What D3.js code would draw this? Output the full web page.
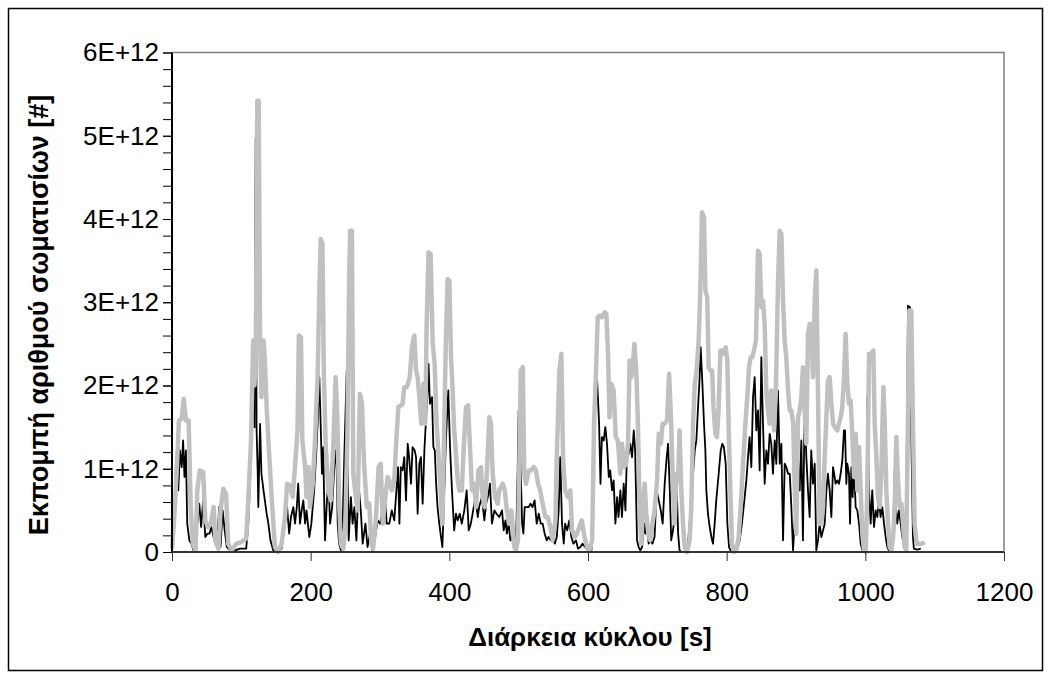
<!DOCTYPE html>
<html>
<head>
<meta charset="utf-8">
<script src="https://cdn.jsdelivr.net/npm/d3@7"></script>
<style>
  html, body { margin: 0; padding: 0; background: #ffffff; }
  svg { display: block; }
  text { font-family: "Liberation Sans", Arial, sans-serif; }
</style>
</head>
<body>
<svg id="chart" width="1051" height="679"></svg>
<script>
// ---- Data (values in units of 1E+12 particles) ----
const blackTime = [0,3,6,9,11.5,14,16,18,20,22,25,28,31,34,36.5,39.4,42,45,48,51,54,56.7,60,62.5,65,68,70,73,76,79,84,91,98,107,110,112.5,115,117,119,120.7,122,123.5,124.5,127,129,132,136.5,139,142,146,153,158,163,166,169,171.6,175,177.4,180,182,184.6,187,189.4,192,194,198,201,205,207.7,210,212.5,214.4,216.3,218,220.7,223,225.5,228,231,233.6,236,237.5,239,241,243.7,246,248.5,252,254.8,258,260.5,263,266,269,272.6,275,279,282,285.5,289,293,296.6,300,304,307,309.6,313.4,317,320.6,323,326,328,330,332.6,335,337.5,340,342,344.7,347,350,352,354.3,356.7,359,361.5,364,366,368.7,370,372,375,377,379,381,383,385.5,388,390,392.7,395,398.5,401,403.8,407,409.6,412,415,418,421.6,425,428,431,433.6,437.5,441,443,447,450.5,453,456.7,458.6,461.5,465,468,472,476,478.4,481,483,485.6,488,490.4,493.3,496,498.6,500,502.4,505,506.8,508.7,511.6,514.5,517,520,523,526,529,531.8,534.6,537.5,540.4,543,546,549,552,555,557.7,560,562.5,565,567,570,573,576,579,582.7,585.6,589,592,596,600,605,608,609.7,613,616,618,620,622.6,625,627.4,630,632,634.7,637,639.5,642,644,646.7,649,651.5,654,656,658.7,661,663.5,666,668,670.7,673,675.5,678,681,682.7,685,687.5,690,693,696,699,702,705,707.7,710.6,713.5,715.5,718,720,722.6,725,727.4,730,732,734.6,739.4,744.2,746.6,749,751.5,754,756.3,758.7,761,762.5,765,767.3,769.3,770.7,773,775.5,778,780.3,782.7,785,788.5,791.4,793.8,796,798.6,801,803.4,806.7,814,818.8,822,825,828.4,830.8,833,835.6,838,840.4,842.8,845.2,847.6,850,852.4,854.8,857.2,859.6,862,864.4,866.8,869.3,871.6,874,876.5,878.9,881.3,883.7,886,888.5,891,893.3,895.7,898,900.5,902.9,905.3,907.7,910,912.5,914.9,917.3,919.7,922,924.5,927,929.3,931.7,934,936.6,939,941.4,943.8,946,948.6,951,953.4,955.8,957,959.6,962,964.4,966.8,969.2,970.7,972.6,974,976.4,977.9,979.8,981.7,983.7,986,988.5,990.9,993.3,995.7,999,1001.4,1002.9,1005.3,1007.7,1010,1012.5,1014.9,1017.3,1019.7,1022,1024.5,1027,1029.3,1031.7,1034,1037.5,1040.4,1042.3,1044.2,1046,1048.5,1051,1053.4,1055.8,1058.6,1060.6,1061.5,1064.4,1066.8,1068.7,1070,1075,1080];
const blackValues = [0.06,0.34,1.14,0.74,1.22,1.02,1.34,0.9,1.22,0.34,0.14,0.1,0.02,0.18,0.34,0.58,0.3,0.62,0.18,0.22,0.22,0.3,0.18,0.1,0.06,0.54,0.06,0.5,0.26,0.06,0.02,0.02,0.04,0.04,0.34,0.82,1.54,2.0,1.5,4.98,1.46,1.0,0.54,1.54,0.94,0.74,0.46,0.34,0.14,0.02,0.0,0.04,0.34,0.54,0.22,0.42,0.54,0.34,0.54,0.82,0.34,0.5,0.62,0.34,0.5,0.18,0.34,0.74,1.14,1.54,2.1,1.54,0.94,1.26,0.14,0.54,0.9,0.34,0.54,0.94,1.22,1.06,0.34,0.1,0.02,0.3,1.14,2.18,0.14,0.66,0.34,0.54,0.14,0.82,0.46,0.1,0.34,0.06,0.22,0.02,0.18,0.38,0.34,0.5,0.7,0.34,0.34,0.5,0.38,0.66,1.02,0.34,1.02,0.98,1.14,0.62,1.3,1.14,0.82,1.26,1.22,1.14,0.46,1.06,1.14,0.58,1.22,1.54,1.94,2.26,1.78,1.86,1.26,1.22,0.82,0.54,0.34,0.18,0.06,0.74,1.34,1.94,1.26,0.74,0.26,0.46,0.38,0.46,0.34,0.5,0.74,0.26,0.34,0.46,0.66,0.42,0.54,0.66,0.38,0.58,0.7,0.82,0.34,0.5,0.46,0.42,0.5,0.26,0.38,0.22,0.34,0.14,0.18,0.04,0.04,0.98,1.7,1.14,0.34,0.22,0.54,0.54,0.54,0.58,0.54,0.62,0.34,0.46,0.34,0.34,0.22,0.14,0.18,0.14,0.22,0.1,0.18,0.5,1.14,0.34,0.1,0.34,0.26,0.38,0.18,0.1,0.14,0.04,0.06,0.1,0.06,0.02,0.02,1.14,1.98,2.1,1.54,0.82,1.38,1.34,1.5,1.3,0.9,0.98,0.74,0.86,0.34,0.66,0.42,0.74,0.42,0.82,0.5,1.14,1.18,1.3,1.14,1.46,1.22,0.14,0.06,0.02,0.06,0.34,0.22,0.34,0.1,0.14,0.1,0.18,0.74,0.62,0.5,0.34,0.82,1.14,1.3,0.74,0.14,0.26,0.42,0.94,0.22,0.02,0.0,0.0,0.1,0.34,0.74,0.94,1.22,1.34,1.74,2.1,2.46,2.02,1.54,1.22,0.74,0.46,0.3,0.18,0.1,0.34,0.62,0.94,1.22,1.3,1.26,1.06,0.34,0.06,0.0,0.0,0.14,0.34,0.58,0.86,1.14,1.38,1.02,1.86,2.1,1.46,1.7,0.98,2.34,1.54,0.82,1.22,1.06,1.42,1.3,0.94,1.34,1.06,1.94,1.06,1.3,0.14,1.06,1.02,0.94,0.94,0.54,0.02,0.34,0.86,1.14,0.74,1.34,0.14,1.78,1.14,0.74,0.42,1.22,0.82,1.06,0.02,0.14,0.34,0.18,0.26,0.34,0.74,0.94,0.74,0.42,1.02,0.9,0.82,0.86,0.82,0.94,1.1,1.46,1.46,0.82,1.06,0.94,0.34,1.02,0.66,1.06,0.54,0.5,0.34,0.1,0.02,0.0,0.14,1.86,0.74,0.34,0.74,0.3,0.5,0.42,0.62,0.42,0.54,0.34,0.18,0.06,0.02,0.02,0.34,0.98,0.54,0.34,0.5,0.34,0.18,0.06,0.02,1.94,2.96,2.94,1.14,0.18,0.04,0.03,0.04];

const grayTime = [0,3,7,10,14,17,20,24,27,30,34,36.5,40,45,48,52,56,60,62.5,67,70,74,78,81,86,93,100,107,110,114,117,119,121,123,125,127,129,132,134,136.5,139,144,148.5,153,158,163,166,170,174,177,181,183,186,188,192,194,197,199,203,206,210,212.5,214.5,217,219,221.6,225.5,229,232.7,236,238.5,241,243.5,247,250,253,255.5,257,259.5,261.5,264,267.7,271,274,277,281,284.6,287.5,290,294,298,301,304,307.7,311,313.4,317,320.6,323,326.4,330,332.6,335,338.4,341,343,346,349.5,352,354.3,356.7,359.6,362.5,365.3,367.3,370,373,376,378.8,381.7,384.6,387,390,392.7,395,397.6,400,402.4,404.8,407,409.6,412,414.4,418,420.6,424,427,429.8,432.7,436,438.4,442,445.6,448,451,453.8,457.7,460,462.5,466,469.7,472,477,480,483,486.6,489.5,493,496,499,501,503,506,508,510.6,514.5,518,521.7,525,528,531,534.6,538.5,542,545.7,549,553,555,558.7,561.6,564,567,571,574.5,577,581,584,587.5,591,595,598.6,602,606,608.7,611.6,614,617,620,624,626.5,629,631,633.7,637,640,643,646.7,649,652,655,657.7,660,662.5,665,667,670,672,674.6,677,679,681.8,684,687.5,690,693,696,699.6,702,705,707.7,710.6,714,717,720,722.6,725,727.4,730,732,734.6,737,739.4,742.8,746.6,749,751.5,754,756.3,759.6,762,764.4,767.3,769.3,772,774,776.5,779,781,783.7,786,788.5,791,793.3,796,798.6,801,803,805.3,807.7,810.6,814,817.3,820.2,823.6,827,830,832.2,834.6,837,839.4,842.3,845.2,847.6,850,852.4,854.8,857.2,859.6,862,864.4,868.3,871,874,876.5,878.9,881.3,883.7,886,888.5,891,893.3,896,898,900.5,902.9,905.3,907.7,910,912.5,914.9,917.3,919.7,922,924.5,927,929.3,931.7,934,936.6,939,941.4,943.8,946,948.6,951,953.4,956,959.6,962,964.4,966.8,969.2,971.6,974,976.4,978.8,981.2,983.7,986,988.5,990.9,993.3,995.7,998,1000.5,1002.9,1005.3,1008.6,1011.5,1013.5,1015.9,1018.3,1020.7,1023,1026,1028,1030.3,1032.7,1035,1037.5,1040,1042.3,1044.7,1047,1049.5,1052,1054.3,1056.7,1059,1061.5,1063.5,1066.3,1068.7,1071,1074,1077.4,1082,1085.6];
const grayValues = [0.04,0.38,1.0,1.58,1.6,1.84,1.58,1.58,0.54,0.1,0.02,0.74,0.98,0.96,0.38,0.3,0.34,0.54,0.14,0.04,0.5,0.76,0.7,0.1,0.02,0.1,0.12,0.16,0.62,1.34,2.54,2.0,2.56,5.42,5.42,2.58,1.86,2.54,2.3,1.74,1.34,0.62,0.06,0.0,0.1,0.42,0.82,0.8,0.66,0.98,1.46,2.6,2.58,1.34,1.02,0.66,1.02,0.54,0.82,1.3,2.1,3.14,3.76,3.7,2.14,1.3,0.74,0.62,1.3,2.1,1.6,0.6,0.1,0.04,0.3,1.4,3.3,3.86,3.86,0.94,0.74,0.5,1.9,1.78,1.06,0.54,0.58,0.1,0.04,0.38,1.02,1.06,0.34,0.66,0.9,0.86,0.74,0.86,1.26,1.74,1.76,1.78,1.98,1.98,2.04,2.1,2.46,2.6,2.18,2.1,1.86,1.54,2.02,1.54,2.74,3.6,3.58,2.5,2.26,1.54,1.14,0.82,0.34,1.54,2.54,3.28,3.26,2.34,1.94,1.46,1.18,0.86,0.74,0.74,1.22,1.74,1.76,1.26,0.74,0.82,0.54,0.98,1.02,0.66,0.54,0.9,1.62,1.54,0.94,0.66,0.58,0.74,0.82,0.74,0.5,0.34,0.5,0.1,0.02,0.14,1.06,2.18,2.22,0.94,0.82,0.98,0.98,1.02,0.98,0.82,0.74,0.58,0.42,0.42,0.3,0.14,0.38,1.14,2.18,2.38,1.14,0.74,0.66,0.74,0.26,0.18,0.22,0.3,0.38,0.18,0.06,0.02,0.14,1.54,2.18,2.82,2.84,2.82,2.88,2.86,2.34,1.62,2.02,1.94,1.38,1.34,0.94,1.3,1.02,1.06,1.3,2.3,2.1,2.3,2.5,2.1,1.54,0.5,0.1,0.54,0.82,0.46,0.18,0.14,0.34,0.5,0.86,1.42,1.3,1.54,1.54,1.58,2.14,1.54,0.74,0.34,0.94,0.86,1.46,0.74,0.34,0.06,0.0,0.14,0.54,1.54,2.02,2.14,2.54,3.14,4.08,4.02,3.14,3.06,2.22,2.18,2.18,1.74,1.42,1.38,1.74,2.42,2.42,2.38,2.46,2.3,1.46,0.74,0.1,0.0,0.02,0.18,0.54,1.06,1.54,1.9,2.22,2.34,2.34,2.42,2.54,3.62,3.58,2.94,3.02,2.74,1.94,1.7,1.54,1.94,1.46,1.94,3.22,3.86,3.82,3.02,2.54,2.34,1.94,1.7,1.7,1.54,0.82,0.22,1.62,1.7,1.86,2.22,1.7,1.3,2.62,2.74,2.74,2.1,3.02,3.38,1.94,0.34,0.34,0.54,1.14,1.62,2.06,2.1,1.78,1.54,1.5,1.46,1.54,1.62,1.74,2.1,2.62,2.02,1.78,1.82,1.42,0.9,1.42,0.74,1.26,0.74,0.22,0.02,0.0,0.74,2.38,2.38,2.42,1.54,1.14,0.66,0.54,0.94,1.98,1.54,0.74,0.34,0.06,0.02,0.18,0.5,1.38,0.9,0.54,0.58,0.34,0.06,0.02,1.62,2.9,2.9,1.54,0.34,0.1,0.1,0.1,0.12];

const xTickValues = [0, 200, 400, 600, 800, 1000, 1200];
const xTickLabels = ["0", "200", "400", "600", "800", "1000", "1200"];
const yTickValues = [0, 1, 2, 3, 4, 5, 6];
const yTickLabels = ["0", "1E+12", "2E+12", "3E+12", "4E+12", "5E+12", "6E+12"];
const yMinorTicks = d3.range(0, 31).map(i => i * 0.2);

const xTitle = "Διάρκεια κύκλου [s]";
const yTitle = "Εκπομπή αριθμού σωματισίων [#]";

// ---- Layout ----
const svg = d3.select("#chart");
const plot = { left: 172, right: 1004, top: 52.5, bottom: 552 };

const x = d3.scaleLinear().domain([0, 1200]).range([plot.left, plot.right]);
const y = d3.scaleLinear().domain([0, 6]).range([plot.bottom, plot.top]);

// outer chart border
svg.append("rect")
  .attr("x", 8.5).attr("y", 8.5)
  .attr("width", 1034).attr("height", 662)
  .attr("fill", "none").attr("stroke", "#000").attr("stroke-width", 1.5);

// plot area frame (top & right grey)
svg.append("path")
  .attr("d", `M${plot.left},${plot.top}H${plot.right}V${plot.bottom}`)
  .attr("fill", "none").attr("stroke", "#808080").attr("stroke-width", 1.5);

// series
const blackData = blackTime.map((t, i) => [t, blackValues[i]]);
const grayData = grayTime.map((t, i) => [t, grayValues[i]]);
const line = d3.line().x(d => x(d[0])).y(d => y(d[1]));

svg.append("path").datum(blackData)
  .attr("d", line).attr("fill", "none")
  .attr("stroke", "#000").attr("stroke-width", 1.8).attr("stroke-linejoin", "round");

svg.append("path").datum(grayData)
  .attr("d", line).attr("fill", "none")
  .attr("stroke", "#c0c0c0").attr("stroke-width", 4.5).attr("stroke-linejoin", "round");

// y minor ticks
const yMinor = svg.append("g")
  .attr("transform", `translate(${plot.left},0)`)
  .call(d3.axisLeft(y).tickValues(yMinorTicks).tickSize(9).tickFormat(""));
yMinor.select(".domain").remove();
yMinor.selectAll("line").attr("stroke", "#000").attr("stroke-width", 1);

// y axis (labels)
const yAxis = svg.append("g")
  .attr("transform", `translate(${plot.left},0)`)
  .call(d3.axisLeft(y).tickValues(yTickValues).tickSize(9).tickPadding(4)
        .tickFormat((d, i) => yTickLabels[i]));
yAxis.select(".domain").attr("stroke", "#000").attr("stroke-width", 2)
  .attr("d", `M0,${plot.bottom}V${plot.top}`);
yAxis.selectAll("line").attr("stroke", "#000").attr("stroke-width", 1);
yAxis.selectAll("text").attr("font-size", 26).attr("fill", "#000")
  .attr("font-family", "'Liberation Sans', Arial, sans-serif");

// x axis
const xAxis = svg.append("g")
  .attr("transform", `translate(0,${plot.bottom})`)
  .call(d3.axisBottom(x).tickValues(xTickValues).tickSize(9).tickPadding(22)
        .tickFormat((d, i) => xTickLabels[i]));
xAxis.select(".domain").attr("stroke", "#333").attr("stroke-width", 2)
  .attr("d", `M${plot.left},0H${plot.right}`);
xAxis.selectAll("line").attr("stroke", "#333").attr("stroke-width", 1);
xAxis.selectAll("text").attr("font-size", 26).attr("fill", "#000")
  .attr("font-family", "'Liberation Sans', Arial, sans-serif");

// titles
svg.append("text")
  .attr("x", 590).attr("y", 646)
  .attr("text-anchor", "middle").attr("font-size", 26).attr("font-weight", "bold")
  .text(xTitle);

svg.append("text")
  .attr("transform", `translate(48,315) rotate(-90)`)
  .attr("text-anchor", "middle").attr("font-size", 27).attr("font-weight", "bold")
  .text(yTitle);
</script>
</body>
</html>
